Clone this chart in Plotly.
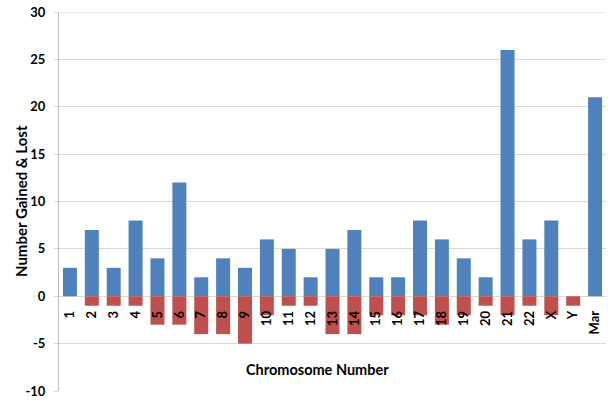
import plotly.graph_objects as go

categories = ["1", "2", "3", "4", "5", "6", "7", "8", "9", "10", "11", "12",
              "13", "14", "15", "16", "17", "18", "19", "20", "21", "22", "X", "Y", "Mar"]
gained = [3, 7, 3, 8, 4, 12, 2, 4, 3, 6, 5, 2, 5, 7, 2, 2, 8, 6, 4, 2, 26, 6, 8, 0, 21]
lost = [0, -1, -1, -1, -3, -3, -4, -4, -5, -2, -1, -1, -4, -4, -2, -2, -2, -3, -2, -1, -2, -1, -2, -1, 0]
y_ticks = [-10, -5, 0, 5, 10, 15, 20, 25, 30]
y_tick_text = ["-10", "-5", "0", "5", "10", "15", "20", "25", "30"]

FONT = "Lato"
GRID = "#D9D9D9"
W, H = 608, 401
L, T, R, B = 59, 12, 2, 10
pw = W - L - R
ph = H - T - B

def px(x):
    return (x - L) / pw

def py(y):
    return (H - B - y) / ph

fig = go.Figure()
fig.add_trace(go.Bar(x=categories, y=gained, name="Gained",
                     marker=dict(color="#4F81BD", line=dict(width=0))))
fig.add_trace(go.Bar(x=categories, y=lost, name="Lost",
                     marker=dict(color="#C0504D", line=dict(width=0))))

fig.update_layout(
    width=W, height=H,
    margin=dict(l=L, r=R, t=T, b=B, autoexpand=False),
    barmode="relative",
    bargap=0.36,
    showlegend=False,
    hovermode=False,
    plot_bgcolor="white",
    paper_bgcolor="white",
    font=dict(family=FONT, color="black"),
    xaxis=dict(
        type="category",
        anchor="free",
        position=0.25,
        tickangle=-90,
        tickfont=dict(family=FONT, size=13, color="black", weight="bold"),
        showline=False,
        showgrid=False,
        ticks="",
        ticklabelstandoff=11,
        automargin=False,
    ),
    yaxis=dict(
        range=[-10, 30],
        tickvals=y_ticks,
        ticktext=y_tick_text,
        tickfont=dict(family=FONT, size=13, color="black", weight="bold"),
        showgrid=True,
        gridcolor=GRID,
        gridwidth=1,
        zeroline=True,
        zerolinecolor=GRID,
        zerolinewidth=1,
        showline=True,
        linecolor="#BFBFBF",
        linewidth=1,
        ticks="outside",
        ticklen=4,
        tickcolor=GRID,
        ticklabelstandoff=6,
        ticklabeloverflow="allow",
        automargin=False,
    ),
    shapes=[
        dict(type="line", xref="paper", yref="y", x0=0, x1=1, y0=y_ticks[-1], y1=y_ticks[-1],
             line=dict(color=GRID, width=1), layer="below"),
    ],
    annotations=[
        dict(text="<b>Chromosome Number</b>", x=px(317), y=py(369),
             xref="paper", yref="paper", xanchor="center", yanchor="middle",
             showarrow=False, font=dict(family=FONT, size=14.5, color="black")),
        dict(text="<b>Number Gained &amp; Lost</b>", x=px(21), y=py(201),
             xref="paper", yref="paper", xanchor="center", yanchor="middle",
             showarrow=False, textangle=-90, font=dict(family=FONT, size=15, color="black")),
    ],
)

fig.write_html("out.html", config={"displayModeBar": False},
               post_script="document.body.style.margin='0px';")
